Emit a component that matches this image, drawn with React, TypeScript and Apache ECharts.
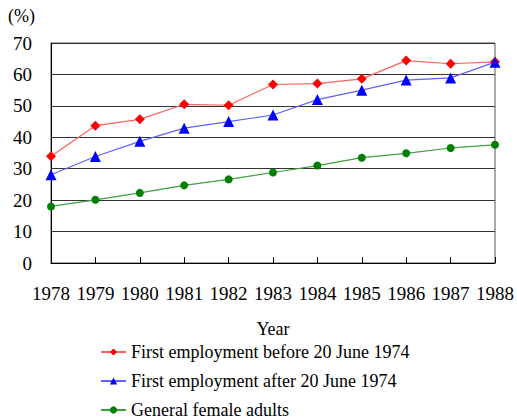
import React, { useEffect, useRef } from "react";
import * as echarts from "echarts";

const years = ["1978", "1979", "1980", "1981", "1982", "1983", "1984", "1985", "1986", "1987", "1988"];
const beforeSeries = [34.0, 43.7, 45.7, 50.5, 50.2, 56.8, 57.1, 58.6, 64.4, 63.4, 64.0];
const afterSeries = [28.1, 33.9, 38.7, 42.9, 45.0, 47.1, 52.0, 55.0, 58.2, 58.9, 63.9];
const femaleSeries = [18.0, 20.1, 22.3, 24.7, 26.6, 28.8, 31.0, 33.5, 34.9, 36.6, 37.6];
const seriesNames = [
  "First employment before 20 June 1974",
  "First employment after 20 June 1974",
  "General female adults",
];

const FONT = "Liberation Serif";

export default function App() {
  const ref = useRef<HTMLDivElement>(null);
  useEffect(() => {
    if (!ref.current) return;
    const chart = echarts.init(ref.current, undefined, { renderer: "svg" });
    chart.setOption({
      animation: false,
      backgroundColor: "#ffffff",
      textStyle: { fontFamily: FONT, color: "#000" },
      grid: {
        left: 51,
        top: 43,
        width: 448,
        height: 220,
        show: true,
        borderColor: "#555",
        borderWidth: 1,
        containLabel: false,
      },
      graphic: [
        {
          type: "text",
          left: 8,
          top: 7,
          style: { text: "(%)", fontFamily: FONT, fontSize: 18, fill: "#000" },
        },
      ],
      xAxis: {
        type: "category",
        data: years,
        boundaryGap: false,
        name: "Year",
        nameLocation: "middle",
        nameGap: 57,
        nameTextStyle: { fontFamily: FONT, fontSize: 18, color: "#000" },
        axisLine: { show: true, lineStyle: { color: "#000", width: 1 } },
        axisTick: { show: true, inside: true, length: 6, lineStyle: { color: "#000" } },
        axisLabel: { fontFamily: FONT, fontSize: 19, color: "#000", margin: 21, interval: 0 },
        splitLine: { show: false },
      },
      yAxis: {
        type: "value",
        min: 0,
        max: 70,
        interval: 10,
        axisLine: { show: true, lineStyle: { color: "#000", width: 1 } },
        axisTick: { show: false },
        axisLabel: { fontFamily: FONT, fontSize: 19, color: "#000", margin: 19 },
        splitLine: { show: true, lineStyle: { color: "#333", width: 1 } },
      },
      legend: {
        orient: "vertical",
        left: 100,
        top: 343,
        padding: 0,
        itemGap: 11,
        itemWidth: 25,
        itemHeight: 9,
        textStyle: { fontFamily: FONT, fontSize: 18, color: "#000" },
        data: seriesNames,
      },
      series: [
        {
          name: seriesNames[0],
          type: "line",
          data: beforeSeries,
          symbol: "diamond",
          symbolSize: 10,
          lineStyle: { color: "#ff6060", width: 1.2 },
          itemStyle: { color: "#ff0000" },
        },
        {
          name: seriesNames[1],
          type: "line",
          data: afterSeries,
          symbol: "triangle",
          symbolSize: 11,
          lineStyle: { color: "#6060ff", width: 1.2 },
          itemStyle: { color: "#0000ff" },
        },
        {
          name: seriesNames[2],
          type: "line",
          data: femaleSeries,
          symbol: "circle",
          symbolSize: 8,
          lineStyle: { color: "#40a040", width: 1.2 },
          itemStyle: { color: "#008000" },
        },
      ],
    });
    return () => chart.dispose();
  }, []);
  return <div ref={ref} style={{ width: 517, height: 420, position: "absolute", left: 0, top: 0 }} />;
}
